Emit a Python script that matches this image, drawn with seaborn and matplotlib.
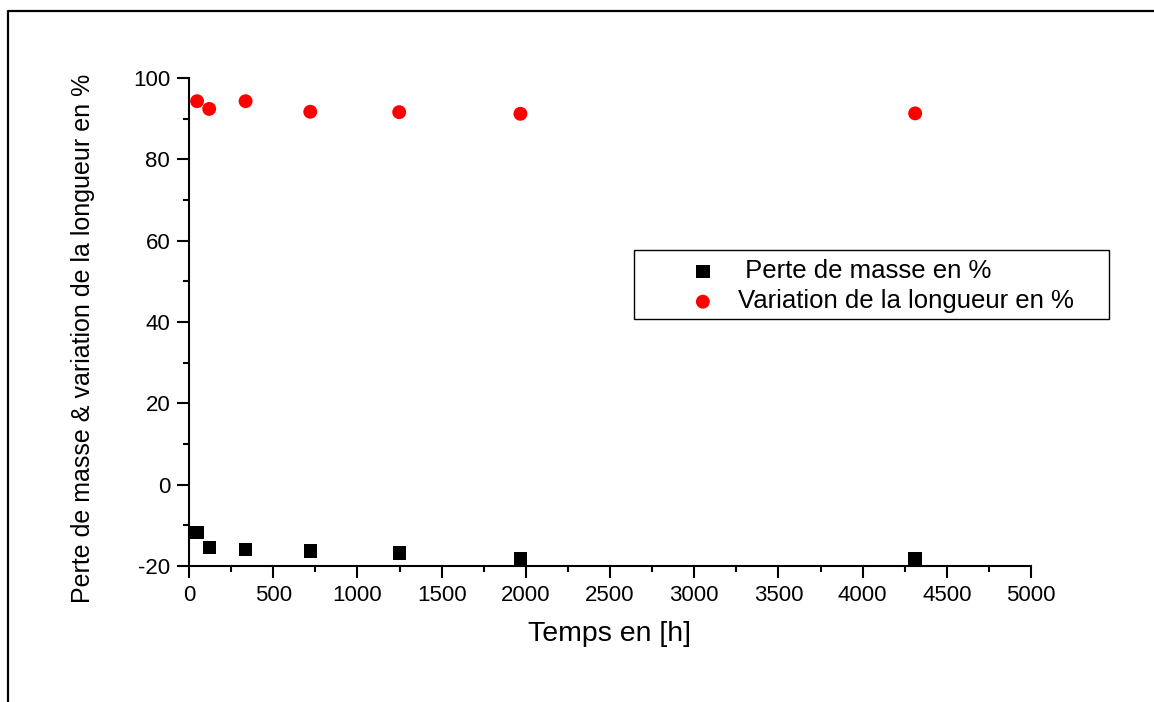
import seaborn as sns
import matplotlib.pyplot as plt
import pandas as pd
from matplotlib.lines import Line2D
from matplotlib.patches import Rectangle
from matplotlib.ticker import MultipleLocator

# time points in hours
hours = [48, 120, 336, 720, 1248, 1968, 4312]
# mass loss (%)
mass_loss = [-11.7, -15.5, -15.9, -16.3, -16.8, -18.1, -18.1]
# length variation (%)
length_var = [94.3, 92.4, 94.3, 91.7, 91.6, 91.2, 91.3]

label_mass = ' Perte de masse en %'
label_length = 'Variation de la longueur en %'

sns.set_style('ticks', rc={'text.color': 'black', 'axes.labelcolor': 'black',
                           'xtick.color': 'black', 'ytick.color': 'black',
                           'axes.edgecolor': 'black'})
plt.rcParams['font.family'] = ['Liberation Sans', 'DejaVu Sans']
plt.rcParams['axes.unicode_minus'] = False

W, H = 1154, 702
fig = plt.figure(figsize=(W / 100, H / 100), dpi=100)
ax = fig.add_axes([189 / W, 1 - 566 / H, 842 / W, 488 / H])

df_mass = pd.DataFrame({'t': hours, 'v': mass_loss})
df_len = pd.DataFrame({'t': hours, 'v': length_var})

sns.scatterplot(data=df_mass, x='t', y='v', marker='s', color='black', s=92,
                edgecolor='none', label=label_mass, ax=ax, clip_on=False, zorder=3)
sns.scatterplot(data=df_len, x='t', y='v', marker='o', color='#ff0000', s=100,
                edgecolor='none', label=label_length, ax=ax, clip_on=False, zorder=3)

ax.set_xlim(0, 5000)
ax.set_ylim(-20, 100)
ax.xaxis.set_major_locator(MultipleLocator(500))
ax.xaxis.set_minor_locator(MultipleLocator(250))
ax.yaxis.set_major_locator(MultipleLocator(20))
ax.yaxis.set_minor_locator(MultipleLocator(10))

for side in ['top', 'right']:
    ax.spines[side].set_visible(False)
for side in ['left', 'bottom']:
    ax.spines[side].set_linewidth(1.5)

ax.tick_params(which='major', direction='out', length=8.5, width=1.5,
               labelsize=16, pad=5)
ax.tick_params(which='minor', direction='out', length=4.5, width=1.5)

ax.set_xlabel('Temps en [h]', fontsize=20.5)
ax.xaxis.set_label_coords(0.5, -(621 - 566) / 488)
ax.set_ylabel('Perte de masse & variation de la longueur en %', fontsize=18)
ax.yaxis.set_label_coords((95 - 189) / 842, (566 - 338) / 488)

# legend box drawn by hand so the padding matches
box = Rectangle((634 / W, 1 - 319 / H), 475 / W, 69 / H,
                transform=fig.transFigure, facecolor='white',
                edgecolor='black', linewidth=1.0, zorder=4, clip_on=False)
ax.add_patch(box)
leg = ax.legend(loc='upper left', bbox_to_anchor=(690 / W, 1 - 259 / H),
                bbox_transform=fig.transFigure, fontsize=18.5, frameon=False,
                borderpad=0, labelspacing=0.25, handlelength=1.0,
                handletextpad=0.87, borderaxespad=0, markerscale=1.0)
leg.set_zorder(5)

# outer frame (top and left only)
fig.add_artist(Line2D([7.5 / W, 7.5 / W, 1.0], [0.0, 1 - 11 / H, 1 - 11 / H],
                      transform=fig.transFigure, color='black', linewidth=1.6))

fig.savefig('out.png', dpi=100)
